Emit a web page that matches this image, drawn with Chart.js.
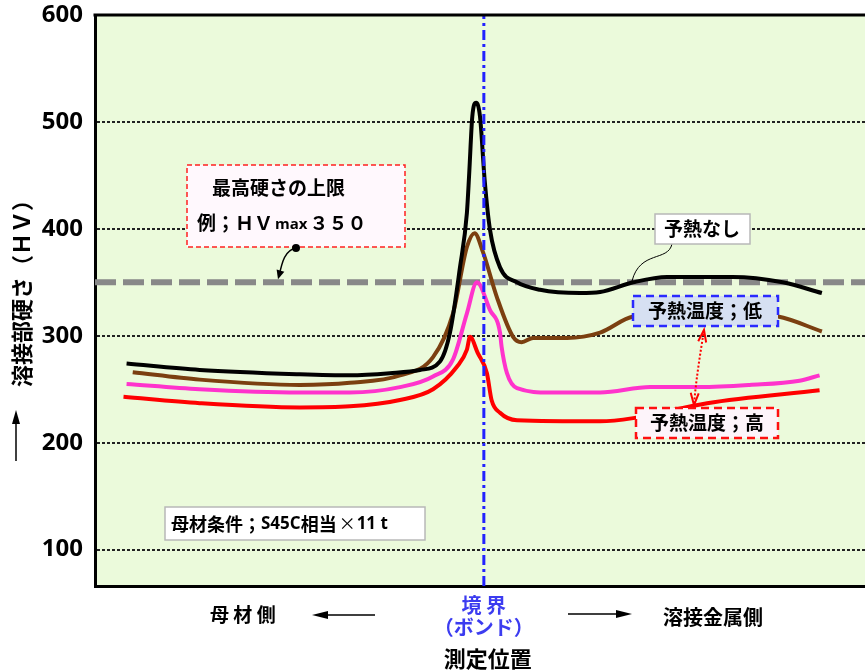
<!DOCTYPE html>
<html lang="ja">
  <head>
    <meta charset="UTF-8" />
    <title>溶接部硬さ</title>
    <style>
      body { margin: 0; background: #fff; }
    </style>
  </head>
  <body>
    <canvas id="hardnessChart" width="865" height="670"></canvas>
    <script src="https://cdn.jsdelivr.net/npm/chart.js"></script>
    <script>
      // measuring position (boundary = 0), hardness HV
      const xMin = -50.5;
      const xMax = 49.5;
      const yTicks = [100, 200, 300, 400, 500, 600];
      const hvLimit = 350;

      const noPreheatX = [-46.4, -36.9, -23.9, -17.4, -12.2, -8.3, -5.7, -4.4, -3.1, -2.2, -1.9, -1.5, -1.0, -0.5, 0.1, 0.8, 2.1, 4.3, 7.3, 12.5, 15.1, 19.4, 23.8, 32.3, 38.8, 43.9];
      const noPreheatY = [274, 268, 264, 263, 265, 268, 276, 303, 364, 415, 452, 505, 518, 505, 446, 399, 364, 350, 343, 340, 341, 350, 355, 355, 350, 340];

      const lowTempX = [-45.6, -36.9, -23.9, -17.4, -10.9, -6.6, -4.0, -2.2, -1.2, -0.1, 1.7, 3.8, 4.9, 6.4, 10.8, 15.1, 19.4, 29.0, 38.2, 43.9];
      const lowTempY = [266, 259, 254, 256, 263, 280, 321, 383, 396, 378, 336, 299, 294, 298, 298, 303, 318, 322, 318, 304];

      const midTempX = [-46.4, -36.9, -23.9, -17.4, -10.9, -6.6, -4.0, -2.2, -0.9, 0.8, 2.1, 2.3, 3.0, 4.3, 8.6, 15.1, 21.6, 28.1, 34.5, 41.0, 43.6];
      const midTempY = [255, 250, 247, 247, 252, 262, 278, 321, 350, 324, 303, 290, 265, 251, 247, 247, 252, 252, 254, 258, 263];

      const highTempX = [-46.8, -36.9, -23.9, -17.4, -10.9, -6.6, -3.5, -2.2, -1.8, -0.8, 0.4, 1.0, 2.1, 4.3, 15.1, 19.4, 29.0, 43.6];
      const highTempY = [243, 237, 233, 234, 240, 250, 271, 287, 299, 284, 265, 240, 228, 221, 220, 223, 237, 249];

      function pts(xs, ys) {
        return xs.map((x, i) => ({ x: x, y: ys[i] }));
      }

      const jp = '"Noto Sans CJK JP", sans-serif';

      function curve(data, color) {
        return {
          data: data,
          borderColor: color,
          borderWidth: 4,
          pointRadius: 0,
          cubicInterpolationMode: "monotone",
          fill: false,
        };
      }

      function drawBox(ctx, x, y, w, h, fill, stroke, dash, lw) {
        ctx.save();
        ctx.fillStyle = fill;
        ctx.fillRect(x, y, w, h);
        ctx.strokeStyle = stroke;
        ctx.lineWidth = lw;
        ctx.setLineDash(dash);
        ctx.strokeRect(x, y, w, h);
        ctx.restore();
      }

      function drawText(ctx, txt, x, y, size, color, align, font) {
        ctx.save();
        ctx.font = "bold " + size + "px " + (font || jp);
        ctx.fillStyle = color || "#000";
        ctx.textAlign = align || "left";
        ctx.textBaseline = "middle";
        ctx.fillText(txt, x, y);
        ctx.restore();
      }

      function arrowHead(ctx, x, y, angle, len, half, filled) {
        ctx.beginPath();
        ctx.moveTo(x - len * Math.cos(angle) + half * Math.sin(angle), y - len * Math.sin(angle) - half * Math.cos(angle));
        ctx.lineTo(x, y);
        ctx.lineTo(x - len * Math.cos(angle) - half * Math.sin(angle), y - len * Math.sin(angle) + half * Math.cos(angle));
        if (filled) {
          ctx.closePath();
          ctx.fill();
        } else {
          ctx.stroke();
        }
      }

      const bgPlugin = {
        id: "bg",
        beforeDraw(chart) {
          const { ctx, chartArea: a } = chart;
          ctx.save();
          ctx.fillStyle = "#ebfadb";
          ctx.fillRect(a.left, a.top, a.right - a.left, a.bottom - a.top);
          ctx.restore();
        },
      };

      const notes = {
        id: "notes",
        afterDraw(chart) {
          const { ctx, chartArea: a } = chart;
          const xs = chart.scales.x;
          const ys = chart.scales.y;
          const bx = xs.getPixelForValue(0);
          const yLim = ys.getPixelForValue(hvLimit);

          // top frame
          ctx.save();
          ctx.strokeStyle = "#000";
          ctx.lineWidth = 3;
          ctx.beginPath();
          ctx.moveTo(a.left - 1.5, a.top);
          ctx.lineTo(a.right, a.top);
          ctx.stroke();
          ctx.restore();

          // HVmax note
          drawBox(ctx, 187, 165, 218, 82, "#fff8fd", "#ff2020", [5, 3], 1.5);
          drawText(ctx, "最高硬さの上限", 212, 188, 19);
          ctx.save();
          ctx.font = "bold 19px " + jp;
          ctx.fillStyle = "#000";
          ctx.textBaseline = "middle";
          let tx = 197;
          ctx.fillText("例；ＨＶ", tx, 223);
          tx += ctx.measureText("例；ＨＶ").width + 2;
          ctx.font = "bold 15px 'Open Sans'";
          ctx.fillText("max", tx, 225);
          tx += ctx.measureText("max").width + 2;
          ctx.font = "bold 19px " + jp;
          ctx.fillText("３５０", tx, 223);
          ctx.restore();
          // connector to 350 line
          ctx.save();
          ctx.strokeStyle = "#000";
          ctx.fillStyle = "#000";
          ctx.lineWidth = 1.5;
          ctx.beginPath();
          ctx.arc(296, 248, 4, 0, Math.PI * 2);
          ctx.fill();
          ctx.beginPath();
          ctx.moveTo(296, 248);
          ctx.bezierCurveTo(285, 250, 282, 262, 279, yLim - 6);
          ctx.stroke();
          arrowHead(ctx, 278, yLim - 3, 1.85, 9, 4, true);
          ctx.restore();

          // 予熱なし
          ctx.save();
          ctx.strokeStyle = "#000";
          ctx.lineWidth = 1;
          ctx.beginPath();
          ctx.moveTo(672, 244);
          ctx.bezierCurveTo(668, 262, 640, 250, 632, 281);
          ctx.stroke();
          ctx.restore();
          drawBox(ctx, 655, 214, 95, 30, "#ffffff", "#b8b8b8", [], 1.5);
          drawText(ctx, "予熱なし", 702, 229, 19, "#000", "center");

          // 予熱温度；低
          drawBox(ctx, 633, 296, 145, 30, "#d6e0f2", "#2a2aff", [8, 5], 2.5);
          drawText(ctx, "予熱温度；低", 705, 311, 19, "#000", "center");

          // 予熱温度；高
          drawBox(ctx, 636, 408, 142, 30, "#fdf4fa", "#ff1010", [8, 5], 2.5);
          drawText(ctx, "予熱温度；高", 707, 423, 19, "#000", "center");

          // dotted double arrow
          ctx.save();
          ctx.strokeStyle = "#ff0000";
          ctx.lineWidth = 2;
          ctx.setLineDash([2, 2]);
          ctx.beginPath();
          ctx.moveTo(704, 330);
          ctx.bezierCurveTo(700, 355, 696, 380, 694, 405);
          ctx.stroke();
          ctx.setLineDash([]);
          arrowHead(ctx, 704, 330, -1.42, 12, 4, false);
          arrowHead(ctx, 694, 405, 1.63, 12, 4, false);
          ctx.restore();

          // base metal condition
          drawBox(ctx, 165, 507, 260, 33, "#ffffff", "#b8b8b8", [], 1.5);
          ctx.save();
          ctx.fillStyle = "#000";
          ctx.textBaseline = "middle";
          ctx.font = "bold 18px " + jp;
          let cx = 171;
          ctx.fillText("母材条件；", cx, 524);
          cx += ctx.measureText("母材条件；").width;
          ctx.font = "bold 17px 'Open Sans'";
          ctx.fillText("S45C", cx, 524);
          cx += ctx.measureText("S45C").width;
          ctx.font = "bold 18px " + jp;
          ctx.fillText("相当", cx, 524);
          cx += ctx.measureText("相当").width + 2;
          ctx.font = "17px " + jp;
          ctx.fillText("×", cx, 524);
          cx += ctx.measureText("×").width + 1;
          ctx.font = "bold 17px 'Open Sans'";
          ctx.fillText("11 t", cx, 524);
          ctx.restore();

          // y-axis title
          ctx.save();
          ctx.translate(22, 288);
          ctx.rotate(-Math.PI / 2);
          drawText(ctx, "溶接部硬さ（ＨＶ）", 0, 0, 22, "#000", "center");
          ctx.restore();
          ctx.save();
          ctx.strokeStyle = "#000";
          ctx.fillStyle = "#000";
          ctx.lineWidth = 1.5;
          ctx.beginPath();
          ctx.moveTo(16, 461);
          ctx.lineTo(16, 416);
          ctx.stroke();
          arrowHead(ctx, 16, 410, -Math.PI / 2, 14, 4, true);
          ctx.restore();

          // x-axis labels
          drawText(ctx, "母 材 側", 210, 615, 19);
          drawText(ctx, "溶接金属側", 663, 617, 20);
          drawText(ctx, "境 界", bx, 605, 20, "#3c3cf0", "center");
          drawText(ctx, "（ボンド）", bx, 627, 20, "#3c3cf0", "center");
          drawText(ctx, "測定位置", bx + 4, 659, 22, "#000", "center");
          ctx.save();
          ctx.strokeStyle = "#000";
          ctx.fillStyle = "#000";
          ctx.lineWidth = 1.5;
          ctx.beginPath();
          ctx.moveTo(375, 615);
          ctx.lineTo(320, 615);
          ctx.moveTo(568, 614);
          ctx.lineTo(624, 614);
          ctx.stroke();
          arrowHead(ctx, 312, 615, Math.PI, 16, 4, true);
          arrowHead(ctx, 632, 614, 0, 16, 4, true);
          ctx.restore();
        },
      };

      const config = {
        type: "line",
        data: {
          datasets: [
            {
              data: [{ x: 0, y: 66 }, { x: 0, y: 600 }],
              borderColor: "#2222ff",
              borderWidth: 3,
              borderDash: [10, 4, 3, 4],
              pointRadius: 0,
            },
            curve(pts(noPreheatX, noPreheatY), "#000000"),
            curve(pts(lowTempX, lowTempY), "#7b3f10"),
            curve(pts(midTempX, midTempY), "#ff33cc"),
            curve(pts(highTempX, highTempY), "#ff0000"),
            {
              data: [{ x: xMin, y: hvLimit }, { x: xMax, y: hvLimit }],
              borderColor: "#888888",
              borderWidth: 6,
              borderDash: [21, 7],
              pointRadius: 0,
            },
          ],
        },
        options: {
          responsive: false,
          animation: false,
          layout: { padding: { top: 15, left: 0, right: 0, bottom: 0 } },
          plugins: {
            legend: { display: false },
            tooltip: { enabled: false },
          },
          scales: {
            x: {
              type: "linear",
              min: xMin,
              max: xMax,
              ticks: { display: false },
              grid: { display: false },
              border: { display: true, color: "#000", width: 3 },
              afterFit(scale) {
                scale.height = 84;
                scale.paddingLeft = 0;
                scale.paddingRight = 0;
              },
            },
            y: {
              min: 66,
              max: 600,
              afterBuildTicks(scale) {
                scale.ticks = yTicks.map((v) => ({ value: v }));
              },
              ticks: {
                color: "#000",
                padding: 12,
                font: { family: "'Open Sans'", weight: "bold", size: 24 },
              },
              grid: {
                drawTicks: false,
                color: (c) => (c.tick && c.tick.value === 600 ? "rgba(0,0,0,0)" : "#222"),
                lineWidth: 2,
              },
              border: { display: true, color: "#000", width: 3, dash: [3, 2] },
              afterFit(scale) {
                scale.width = 95;
                scale.paddingTop = 0;
                scale.paddingBottom = 0;
              },
            },
          },
        },
        plugins: [bgPlugin, notes],
      };

      new Chart(document.getElementById("hardnessChart"), config);
    </script>
  </body>
</html>
